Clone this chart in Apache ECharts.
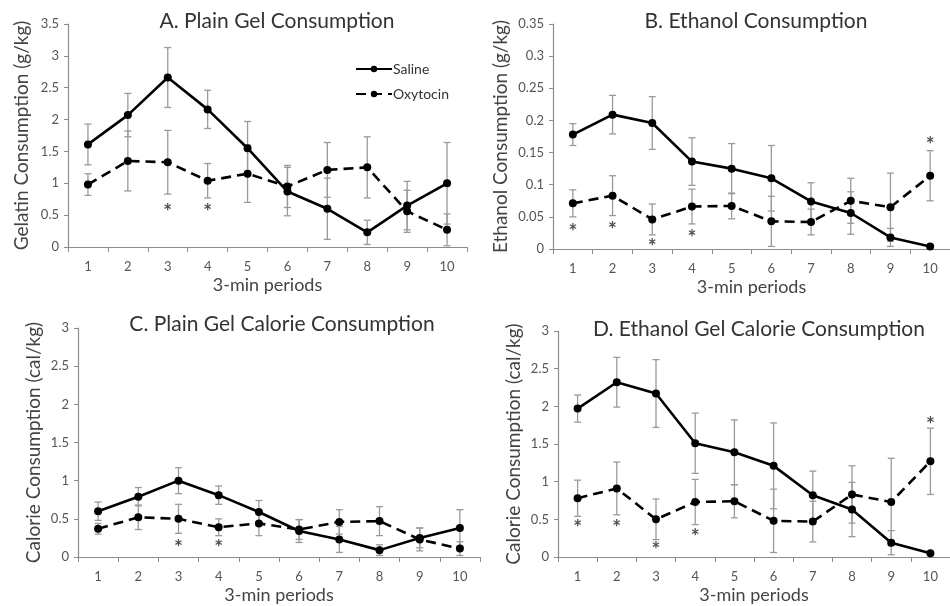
<!DOCTYPE html>
<html>
<head>
<meta charset="utf-8">
<script src="https://cdn.jsdelivr.net/npm/echarts@6/dist/echarts.min.js"></script>
<style>
  html, body { margin: 0; padding: 0; background: #fff; }
  #chart { width: 950px; height: 606px; }
</style>
</head>
<body>
<div id="chart"></div>
<script>
// periods on the x axis
const periods = ['1', '2', '3', '4', '5', '6', '7', '8', '9', '10'];

// A. plain gel (g/kg)
const plainSaline = [1.61, 2.07, 2.66, 2.16, 1.55, 0.87, 0.60, 0.23, 0.65, 1.00];
const plainSalineErr = [0.32, 0.34, 0.47, 0.30, 0.42, 0.38, 0.48, 0.19, 0.38, 0.64];
const plainOxy = [0.98, 1.35, 1.33, 1.04, 1.15, 0.95, 1.21, 1.25, 0.56, 0.27];
const plainOxyErr = [0.17, 0.47, 0.50, 0.27, 0.45, 0.33, 0.43, 0.48, 0.33, 0.25];
const plainStars = [[2, 0.63], [3, 0.63]];

// B. ethanol (g/kg)
const ethSaline = [0.178, 0.209, 0.196, 0.136, 0.125, 0.110, 0.074, 0.056, 0.018, 0.004];
const ethSalineErr = [0.017, 0.030, 0.041, 0.037, 0.039, 0.051, 0.029, 0.033, 0.014, 0.002];
const ethOxy = [0.071, 0.083, 0.046, 0.066, 0.067, 0.043, 0.042, 0.075, 0.065, 0.114];
const ethOxyErr = [0.021, 0.031, 0.024, 0.027, 0.020, 0.039, 0.020, 0.035, 0.053, 0.039];
const ethStars = [[0, 0.034], [1, 0.037], [2, 0.010], [3, 0.025], [9, 0.169]];

// C. plain gel calories (cal/kg)
const plainCalSaline = [0.60, 0.79, 1.00, 0.81, 0.59, 0.34, 0.23, 0.09, 0.25, 0.38];
const plainCalSalineErr = [0.12, 0.12, 0.17, 0.12, 0.15, 0.15, 0.17, 0.07, 0.13, 0.24];
const plainCalOxy = [0.37, 0.52, 0.50, 0.39, 0.44, 0.36, 0.46, 0.47, 0.23, 0.11];
const plainCalOxyErr = [0.07, 0.16, 0.19, 0.11, 0.16, 0.13, 0.16, 0.19, 0.15, 0.09];
const plainCalStars = [[2, 0.175], [3, 0.175]];

// D. ethanol gel calories (cal/kg)
const ethCalSaline = [1.97, 2.32, 2.17, 1.51, 1.39, 1.21, 0.82, 0.63, 0.19, 0.05];
const ethCalSalineErr = [0.18, 0.33, 0.45, 0.40, 0.43, 0.57, 0.32, 0.36, 0.16, 0.02];
const ethCalOxy = [0.78, 0.91, 0.50, 0.73, 0.74, 0.48, 0.47, 0.83, 0.73, 1.27];
const ethCalOxyErr = [0.24, 0.35, 0.27, 0.30, 0.22, 0.42, 0.27, 0.38, 0.58, 0.44];
const ethCalStars = [[0, 0.45], [1, 0.45], [2, 0.15], [3, 0.33], [9, 1.82]];

const FONT = 'Lato, "Open Sans", sans-serif';
const axisGray = '#8c8c8c';

const chart = echarts.init(document.getElementById('chart'));

// error bar with small caps
function errBar(params, api) {
  const x = api.value(0);
  const top = api.coord([x, api.value(2)]);
  const bot = api.coord([x, api.value(1)]);
  const cap = 3.5;
  const style = { stroke: '#9a9a9a', lineWidth: 1.3 };
  return {
    type: 'group',
    children: [
      { type: 'line', shape: { x1: top[0], y1: top[1], x2: bot[0], y2: bot[1] }, style: style },
      { type: 'line', shape: { x1: top[0] - cap, y1: top[1], x2: top[0] + cap, y2: top[1] }, style: style },
      { type: 'line', shape: { x1: bot[0] - cap, y1: bot[1], x2: bot[0] + cap, y2: bot[1] }, style: style }
    ]
  };
}

const panels = [
  { title: 'A. Plain Gel Consumption', yName: 'Gelatin Consumption (g/kg)', max: 3.5, step: 0.5,
    grid: { left: 68, top: 24, width: 399, height: 223 }, titlePos: [272, 6], nameGap: 37,
    saline: plainSaline, salineErr: plainSalineErr, oxy: plainOxy, oxyErr: plainOxyErr, stars: plainStars },
  { title: 'B. Ethanol Consumption', yName: 'Ethanol Consumption (g/kg)', max: 0.35, step: 0.05,
    grid: { left: 553, top: 24, width: 401, height: 225 }, titlePos: [751, 6], nameGap: 43,
    saline: ethSaline, salineErr: ethSalineErr, oxy: ethOxy, oxyErr: ethOxyErr, stars: ethStars },
  { title: 'C. Plain Gel Calorie Consumption', yName: 'Calorie Consumption (cal/kg)', max: 3, step: 0.5,
    grid: { left: 78, top: 328, width: 402, height: 229 }, titlePos: [277, 309], nameGap: 35,
    saline: plainCalSaline, salineErr: plainCalSalineErr, oxy: plainCalOxy, oxyErr: plainCalOxyErr, stars: plainCalStars },
  { title: 'D. Ethanol Gel Calorie Consumption', yName: 'Calorie Consumption (cal/kg)', max: 3, step: 0.5,
    grid: { left: 558, top: 331, width: 402, height: 226 }, titlePos: [754, 314], nameGap: 35,
    saline: ethCalSaline, salineErr: ethCalSalineErr, oxy: ethCalOxy, oxyErr: ethCalOxyErr, stars: ethCalStars }
];

const grids = [], xAxes = [], yAxes = [], titles = [], series = [];

panels.forEach((p, i) => {
  grids.push(p.grid);
  titles.push({
    text: p.title, left: p.titlePos[0], top: p.titlePos[1], textAlign: 'center',
    textStyle: { fontFamily: FONT, fontSize: 21, fontWeight: 'normal', color: '#333' }
  });
  xAxes.push({
    type: 'category', gridIndex: i, data: periods, boundaryGap: true,
    name: '3-min periods', nameLocation: 'middle', nameGap: 29,
    nameTextStyle: { fontFamily: FONT, fontSize: 18, color: '#444' },
    axisLine: { lineStyle: { color: axisGray, width: 1.2 } },
    axisTick: { show: true, length: 5, lineStyle: { color: axisGray } },
    axisLabel: { fontFamily: FONT, fontSize: 13, color: '#555', margin: 13 },
    splitLine: { show: false }
  });
  yAxes.push({
    type: 'value', gridIndex: i, min: 0, max: p.max, interval: p.step,
    name: p.yName, nameLocation: 'middle', nameGap: p.nameGap,
    nameTextStyle: { fontFamily: FONT, fontSize: 19, color: '#444' },
    axisLine: { show: true, lineStyle: { color: axisGray, width: 1.2 } },
    axisTick: { show: true, length: 4, lineStyle: { color: axisGray } },
    axisLabel: { fontFamily: FONT, fontSize: 13, color: '#555', margin: 9 },
    splitLine: { show: false }
  });

  const bars = [];
  p.saline.forEach((v, k) => bars.push([k, v - p.salineErr[k], v + p.salineErr[k]]));
  p.oxy.forEach((v, k) => bars.push([k, v - p.oxyErr[k], v + p.oxyErr[k]]));
  series.push({
    type: 'custom', name: 'err' + i, xAxisIndex: i, yAxisIndex: i,
    renderItem: errBar, data: bars, z: 1, silent: true
  });
  series.push({
    type: 'line', name: 'Saline', xAxisIndex: i, yAxisIndex: i, data: p.saline,
    symbol: 'circle', symbolSize: 8, z: 3,
    itemStyle: { color: '#000' }, lineStyle: { color: '#000', width: 2.6 }
  });
  series.push({
    type: 'line', name: 'Oxytocin', xAxisIndex: i, yAxisIndex: i, data: p.oxy,
    symbol: 'circle', symbolSize: 8, z: 3,
    itemStyle: { color: '#000' }, lineStyle: { color: '#000', width: 2.6, type: [10, 6] }
  });
  series.push({
    type: 'scatter', name: 'sig' + i, xAxisIndex: i, yAxisIndex: i, data: p.stars,
    symbolSize: 1, itemStyle: { color: 'rgba(0,0,0,0)' }, silent: true, z: 4,
    label: { show: true, position: 'inside', formatter: '*', offset: [0, 5],
      fontFamily: FONT, fontSize: 21, fontWeight: 'bold', color: '#222' }
  });
});

const option = {
  animation: false,
  backgroundColor: '#fff',
  title: titles,
  grid: grids,
  xAxis: xAxes,
  yAxis: yAxes,
  legend: {
    data: ['Saline', 'Oxytocin'], orient: 'vertical', left: 350, top: 57,
    itemWidth: 36, itemHeight: 8, itemGap: 11,
    textStyle: { fontFamily: FONT, fontSize: 14, color: '#333', padding: [0, 0, 0, -4] }
  },
  series: series
};

chart.setOption(option);
</script>
</body>
</html>
